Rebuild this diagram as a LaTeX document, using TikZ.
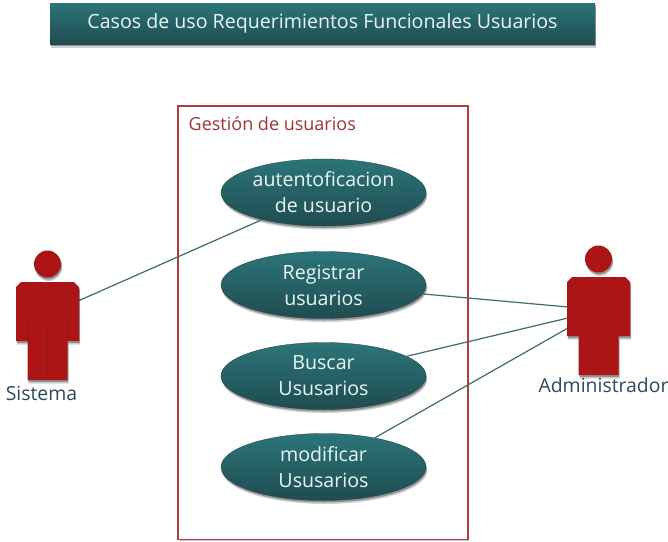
\documentclass[tikz,border=0pt]{standalone}
\usepackage{fontspec}
\setmainfont{Open Sans}
\usetikzlibrary{shadows,shapes.geometric}
\definecolor{tealT}{HTML}{2C7579}
\definecolor{tealB}{HTML}{1F4C50}
\definecolor{redA}{HTML}{AB1515}
\definecolor{redL}{HTML}{8F1A1A}
\definecolor{frameR}{HTML}{B03A40}
\definecolor{lineT}{HTML}{3E6A70}
\definecolor{inkB}{HTML}{2F4858}
\tikzset{
  softshadow/.style={
    general shadow={shadow xshift=1.2pt,shadow yshift=-3.5pt,opacity=0.18,fill=black},
    general shadow={shadow xshift=0.8pt,shadow yshift=-2pt,opacity=0.3,fill=black}},
  usecase/.style={ellipse,minimum width=205pt,minimum height=67pt,inner sep=0pt,draw=tealB!80!black,line width=0.3pt,
    top color=tealT,bottom color=tealB,text=white!92!teal,align=center,font=\fontsize{19.6}{26}\selectfont,softshadow},
  titlebox/.style={rectangle,minimum width=545pt,minimum height=41pt,inner sep=0pt,top color=tealT,bottom color=tealB,
    text=white!92!teal,font=\fontsize{19.6}{24}\selectfont,softshadow},
  conn/.style={draw=lineT,line width=1.2pt},
  actorbody/.style={fill=redA,softshadow},
  actorseam/.style={draw=redL,line width=0.6pt},
  actorlabel/.style={text=inkB,font=\fontsize{19.4}{24}\selectfont,inner sep=0pt},
}
\newcommand{\actorfig}[2]{%
  \begin{scope}[shift={(#1,#2)}]
    \fill[actorbody] (-13.5,0) arc[start angle=180,end angle=-180,radius=13.5];
    \path[actorbody] (-26.5,18) -- (26.5,18) -- (31.5,23) -- (31.5,77) -- (20,77) -- (20,116) -- (-20,116) -- (-20,77) -- (-31.5,77) -- (-31.5,23) -- cycle;
    \draw[actorseam] (-20,51) -- (-20,77) (20,51) -- (20,77) (0,63) -- (0,116);
  \end{scope}}
\begin{document}
\begin{tikzpicture}[x=1pt,y=-1pt]
\useasboundingbox (0,0) rectangle (668,541);
\node[titlebox] (title) at (322.5,23.5) {Casos de uso Requerimientos Funcionales Usuarios};
\draw[frameR,line width=1.3pt,fill=white,drop shadow={shadow xshift=0.8pt,shadow yshift=-1pt,opacity=0.2,fill=black}] (178,106) rectangle (468,539.5);
\node[anchor=base west,inner sep=0pt,text=frameR!90!black,font=\fontsize{18}{22}\selectfont] (group) at (188.5,130.5) {Gestión de usuarios};
\coordinate (sisA) at (78,301);
\coordinate (admA) at (568,307);
\coordinate (admB) at (568,318);
\coordinate (admC) at (568,328);
\node[usecase] (uc1) at (323.5,192.5) {autentoficacion\\de usuario};
\node[usecase] (uc2) at (323.5,285) {Registrar\\usuarios};
\node[usecase] (uc3) at (323.5,376) {Buscar\\Ususarios};
\node[usecase] (uc4) at (323.5,467) {modificar\\Ususarios};
\draw[conn] (uc1) -- (sisA);
\draw[conn] (uc2) -- (admA);
\draw[conn] (uc3) -- (admB);
\draw[conn] (uc4) -- (admC);
\actorfig{47.5}{264}
\actorfig{598.5}{259}
\node[actorlabel,anchor=base] (sis) at (41.5,400) {Sistema};
\node[actorlabel,anchor=base] (adm) at (603.5,392.5) {Administrador};
\end{tikzpicture}
\end{document}
